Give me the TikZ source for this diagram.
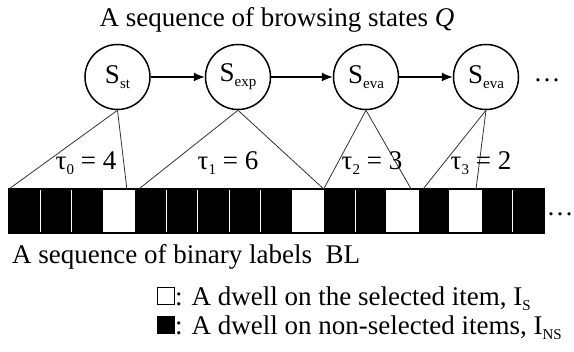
\documentclass[tikz,border=0pt]{standalone}
\usepackage{fontspec}
\setmainfont{Liberation Serif}
\usetikzlibrary{arrows.meta}
\newcommand{\lowsub}[1]{\raisebox{-5pt}{\fontsize{15}{15}\selectfont #1}}
\tikzset{
  every node/.style={font=\fontsize{27}{30}\selectfont,inner sep=0pt},
  state/.style={draw,shape=circle,line width=1.5pt,minimum size=65pt},
  cellbox/.style={draw=white,line width=1pt,minimum width=31.47pt,minimum height=44pt,outer sep=0pt},
  keybox/.style={draw,line width=1pt,minimum size=17pt},
  link/.style={black!80,line width=0.8pt}
}
\begin{document}
\begin{tikzpicture}[x=1pt,y=-1pt]
\useasboundingbox (0,0) rectangle (574,352);
\node[name=title] at (277,20) {A sequence of browsing states \textit{Q}};
\foreach \n/\x/\s in {st/117.5/st,exp/238/exp,evaA/366/eva,evaB/486/eva}{
	\node[state,name=\n] at (\x,77) {S\lowsub{\s}};
};
\node[name=qdots] at (547,80) {\dots};
\foreach \a/\b in {st/exp,exp/evaA,evaA/evaB}{
	\draw[-{Latex[length=11pt,width=9pt]},line width=1.2pt] (\a)--(\b);
};
% binary labels
\foreach \i/\c in {1/black,2/black,3/black,4/white,5/black,6/black,7/black,8/black,9/black,10/white,11/black,12/black,13/white,14/black,15/white,16/black,17/black}{
	\node[cellbox,fill=\c,name=c\i] at ({9+31.47*(\i-0.5)},211) {};
};
\draw[line width=1.5pt] (c1.north west) rectangle (c17.south east);
\node[name=bldots] at (560,214) {\dots};
\coordinate (l0) at (c1.north west);
\coordinate (r0) at ([xshift=-8pt]c4.north east);
\coordinate (l1) at ([xshift=4pt]c5.north west);
\coordinate (r1) at (c10.north east);
\coordinate (l2) at (c11.north west);
\coordinate (r2) at ([xshift=-7pt]c13.north east);
\coordinate (l3) at ([xshift=5pt]c14.north west);
\coordinate (r3) at ([xshift=-5pt]c15.north east);
\foreach \n/\k in {st/0,exp/1,evaA/2,evaB/3}{
	\draw[link] (\n.south)--(l\k);
	\draw[link] (\n.south)--(r\k);
};
\foreach \k/\x/\v in {0/86/4,1/228/6,2/372/3,3/481/2}{
	\node[name=tau\k] at (\x,163) {τ\lowsub{\k} = \v};
};
\node[anchor=base west,name=bltext] at (12,264) {A sequence of binary labels\ \ BL};
% legend
\node[keybox,name=keyS] at (166,296.5) {};
\node[keybox,fill=black,name=keyNS] at (166,325.5) {};
\node[anchor=base west,name=txtS] at (keyS.south east) {: A dwell on the selected item, I\lowsub{S}};
\node[anchor=base west,name=txtNS] at (keyNS.south east) {: A dwell on non-selected items, I\lowsub{NS}};
\end{tikzpicture}
\end{document}
